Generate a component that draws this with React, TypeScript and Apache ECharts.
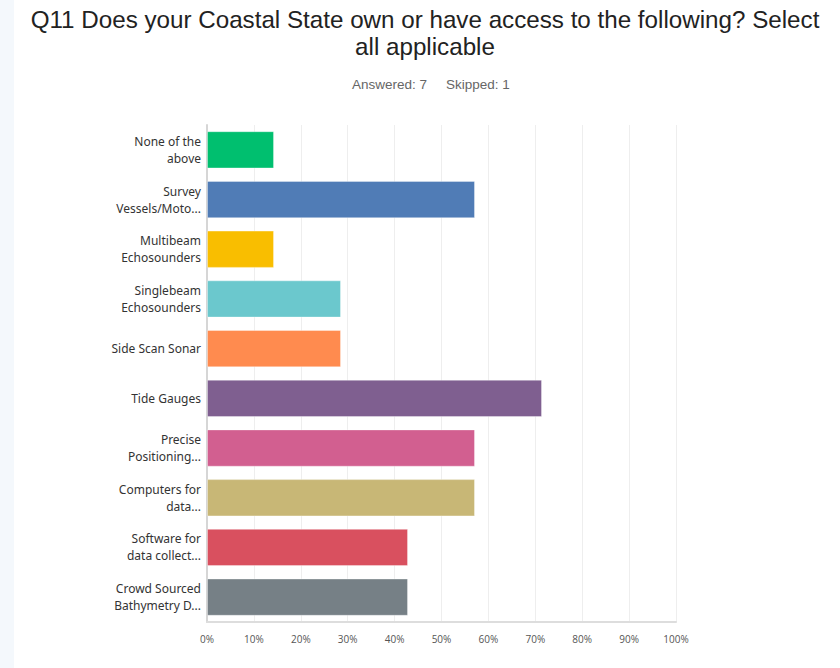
import React, { useEffect, useRef } from "react";
import * as echarts from "echarts";

const categories = [
  "None of the\nabove",
  "Survey\nVessels/Moto...",
  "Multibeam\nEchosounders",
  "Singlebeam\nEchosounders",
  "Side Scan Sonar",
  "Tide Gauges",
  "Precise\nPositioning...",
  "Computers for\ndata...",
  "Software for\ndata collect...",
  "Crowd Sourced\nBathymetry D...",
];
const values = [14.29, 57.14, 14.29, 28.57, 28.57, 71.43, 57.14, 57.14, 42.86, 42.86];
const colors = ["#00bf6f", "#507cb6", "#f9be00", "#6bc8cd", "#ff8b4f", "#7f5f90", "#d25f90", "#c8b776", "#d9505f", "#768086"];
const xTicks = [0, 10, 20, 30, 40, 50, 60, 70, 80, 90, 100];
const titleText = "Q11 Does your Coastal State own or have access to the following? Select\nall applicable";
const answeredText = "Answered: 7";
const skippedText = "Skipped: 1";

export default function App() {
  const ref = useRef<HTMLDivElement>(null);
  useEffect(() => {
    const chart = echarts.init(ref.current!, null, { renderer: "svg" });
    const subFont = "13.5px 'Liberation Sans', Arial, sans-serif";
    chart.setOption({
      animation: false,
      backgroundColor: "#ffffff",
      graphic: [
        { type: "rect", left: 0, top: 0, shape: { x: 0, y: 0, width: 14, height: 668 }, style: { fill: "#f4f8fc" }, z: -1 },
        {
          type: "text",
          x: 427,
          y: 84,
          style: { text: answeredText, fill: "#666666", font: subFont, align: "right", verticalAlign: "middle" },
        },
        {
          type: "text",
          x: 446,
          y: 84,
          style: { text: skippedText, fill: "#666666", font: subFont, align: "left", verticalAlign: "middle" },
        },
      ],
      title: {
        text: titleText,
        left: 420,
        top: 1,
        textAlign: "center",
        textStyle: { fontFamily: "'Liberation Sans', Arial, sans-serif", fontSize: 24.2, fontWeight: "normal", color: "#222222", lineHeight: 27 },
      },
      grid: { left: 207, right: 164, top: 125, bottom: 46, containLabel: false },
      xAxis: {
        type: "value",
        min: 0,
        max: 100,
        interval: 10,
        axisLine: { show: true, lineStyle: { color: "#dddddd", width: 2 } },
        axisTick: { show: false },
        splitLine: { show: true, lineStyle: { color: "#eeeeee", width: 1 } },
        axisLabel: {
          formatter: (v: number) => (xTicks.includes(v) ? v + "%" : ""),
          color: "#555555",
          fontFamily: "'Open Sans', sans-serif",
          fontSize: 10,
          margin: 12,
        },
      },
      yAxis: {
        type: "category",
        data: categories,
        inverse: true,
        axisLine: { show: true, lineStyle: { color: "#d6d6d6", width: 2 } },
        axisTick: { show: false },
        axisLabel: {
          color: "#333333",
          fontFamily: "'Noto Sans', sans-serif",
          fontSize: 12,
          lineHeight: 17,
          margin: 6,
          align: "right",
        },
      },
      series: [
        {
          type: "bar",
          data: values.map((v, i) => ({ value: v, itemStyle: { color: colors[i] } })),
          barCategoryGap: "25%",
          itemStyle: { borderColor: "rgba(255,255,255,0.35)", borderWidth: 1 },
        },
      ],
    });
    return () => chart.dispose();
  }, []);
  return <div ref={ref} style={{ position: "fixed", left: 0, top: 0, width: 840, height: 668 }} />;
}
